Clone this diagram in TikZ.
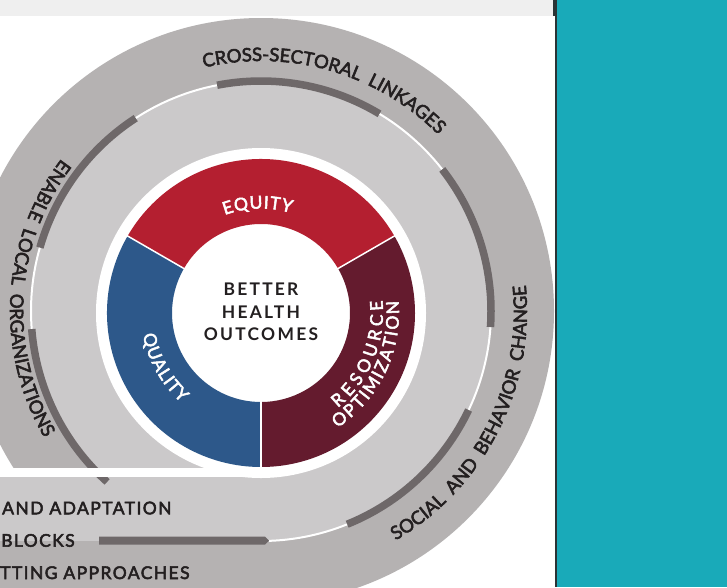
\documentclass[tikz,border=0pt]{standalone}
\usepackage{fontspec}
\setmainfont{Lato}
\newfontfamily\labfam[FakeBold=3,WordSpace=1.9]{Lato}
\newfontfamily\flatfam[FakeBold=3,LetterSpace=8]{Lato}
\newfontfamily\hubfam[LetterSpace=13]{Lato}
\usetikzlibrary{decorations.text}

\definecolor{outerband}{HTML}{B5B2B2}
\definecolor{innerband}{HTML}{CBC9CA}
\definecolor{barclr}{HTML}{6E6869}
\definecolor{equityred}{HTML}{B41F30}
\definecolor{resmaroon}{HTML}{641B2E}
\definecolor{qualblue}{HTML}{2D588A}
\definecolor{panelteal}{HTML}{19AAB9}
\definecolor{inkdark}{HTML}{231F20}
\definecolor{stripgray}{HTML}{EFEFEF}
\definecolor{edgeline}{HTML}{2A3436}

\newcommand\ringtextfont{\labfam\fontsize{18.5}{18.5}\selectfont}
\newcommand\pietextfont{\labfam\fontsize{17.5}{17.5}\selectfont}
\newcommand\flattextfont{\flatfam\fontsize{17.5}{17.5}\selectfont}
\newcommand\hubtextfont{\hubfam\bfseries\fontsize{17.4}{17.4}\selectfont}

\tikzset{
  divider/.style={white, line width=2},
  barseg/.style={barclr, line width=7.5},
  wedgesep/.style={white, line width=1.5},
  flatlabel/.style={inner sep=0, anchor=base west, font=\flattextfont, text=inkdark},
  hublabel/.style={inner sep=0, anchor=base, font=\hubtextfont, text=inkdark},
  ringlabel/.style={decorate, decoration={text along path,
      text={|\ringtextfont|#1}, text align=center, text color=inkdark}},
  % wheel labels are spread evenly over the whole arc they are drawn on
  pielabel/.style={decorate, decoration={text along path,
      text={|\pietextfont|#1}, text align={fit to path}, text color=white}}
}

\begin{document}
\begin{tikzpicture}[x=1pt, y=1pt]
\useasboundingbox (0,0) rectangle (727,-587);
\fill[white] (0,0) rectangle (727,-587);

\coordinate (P) at (261,-313);   % hub of the wheel
\coordinate (R) at (261,-311);   % centre of the spiral bands

% ---- spiral bands ----
\fill[outerband] (R) circle (293);
\fill[outerband] (-5,-541) rectangle (261,-600);
\fill[innerband] (R) circle (230);
\fill[innerband] (-5,-477) rectangle (261,-541);

\begin{scope}[shift={(R)}]
  \draw[divider] (-88:230) arc (-88:223:230);
  \draw[barseg] (59:230) arc (59:101:230);
  \draw[barseg] (-4:230) arc (-4:38:230);
  \draw[barseg] (-68:230) arc (-68:-25.5:230);
  \draw[barseg] (123:230) arc (123:164:230);
  \draw[barseg] (184.5:230) arc (184.5:228:230);
\end{scope}
\fill[barclr] (99,-536.5) -- (265,-536.5) -- (269,-540.5) -- (265,-544.5) -- (99,-544.5) -- cycle;

% cut between the start and the end of the spiral
\fill[white] (-5,-468) rectangle (261,-477);
\fill[white] (P) circle (165);

% ---- band labels ----
\begin{scope}[shift={(R)}]
  \path[ringlabel={CROSS-SECTORAL LINKAGES}] (144:250) arc (144:4:250);
  \path[ringlabel={ENABLE LOCAL ORGANIZATIONS}] (96.5:251) arc (96.5:256.5:251);
  \path[ringlabel={SOCIAL AND BEHAVIOR CHANGE}] (-107:266) arc (-107:53:266);
\end{scope}

\node[flatlabel] (adapt) at (2,-514.3) {AND ADAPTATION};
\node[flatlabel] (blocks) at (1,-546.7) {BLOCKS};
\node[flatlabel] (approaches) at (0,-579) {TTING APPROACHES};

% ---- wheel ----
\begin{scope}[shift={(P)}]
  \fill[equityred] (30:154) arc (30:150:154) -- (150:89) arc (150:30:89) -- cycle;
  \fill[resmaroon] (-90:154) arc (-90:30:154) -- (30:89) arc (30:-90:89) -- cycle;
  \fill[qualblue] (150:154) arc (150:270:154) -- (270:89) arc (270:150:89) -- cycle;
  \draw[wedgesep] (30:88) -- (30:155);
  \draw[wedgesep] (150:88) -- (150:155);
  \draw[wedgesep] (270:88) -- (270:155);

  \path[pielabel={EQUITY}] (110.3:104.5) arc (110.3:73.3:104.5);
  \path[pielabel={QUALITY}] (190.4:120) arc (190.4:228.4:120);
  \path[pielabel={RESOURCE}] (-51:122) arc (-51:6:122);
  \path[pielabel={OPTIMIZATION}] (-56.4:138) arc (-56.4:5.1:138);
\end{scope}

\node[hublabel] (better) at (261,-295) {BETTER};
\node[hublabel] (health) at (261,-318) {HEALTH};
\node[hublabel] (outcomes) at (261,-340.5) {OUTCOMES};

% ---- page furniture ----
\fill[stripgray] (0,0) rectangle (555,-16);
\fill[edgeline] (553.4,0) rectangle (556.6,-16);
\fill[edgeline] (555,0) rectangle (556.6,-587);
\fill[panelteal] (556.6,0) rectangle (727,-587);
\end{tikzpicture}
\end{document}
